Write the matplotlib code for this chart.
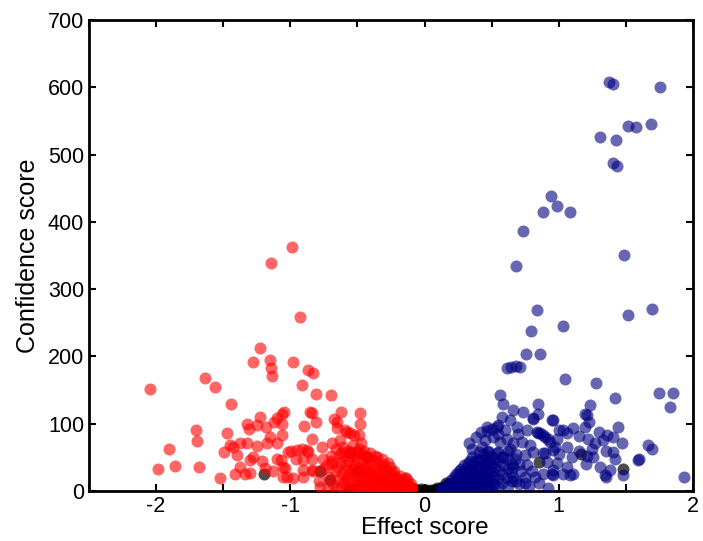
import matplotlib
matplotlib.use("Agg")
import matplotlib.pyplot as plt
from matplotlib.ticker import MultipleLocator

plt.rcParams["font.family"] = ["Liberation Sans", "DejaVu Sans"]
plt.rcParams["axes.unicode_minus"] = False

# down-regulated (red)
red_x = [-0.99, -1.145, -0.926, -1.224, -1.276, -1.154, -1.142, -1.135, -0.983, -0.871,
         -0.834, -1.634, -1.564, -2.046, -0.914, -0.811, -0.695, -1.445, -1.706, -1.696,
         -1.907, -1.987, -1.858, -1.679, -1.525, -1.475, -1.493, -1.45, -1.326, -1.306,
         -1.251, -1.226, -1.18, -1.102, -1.065, -1.045, -1.12, -1.065, -0.851, -0.84,
         -0.811, -0.899, -0.677, -0.625, -0.481, -0.481, -0.65, -0.58, -0.556, -0.491,
         -0.837, -1.063, -1.152, -1.172, -1.102, -1.251, -1.326, -1.375, -1.425, -1.4,
         -1.3, -1.276, -1.209, -1.189, -1.375, -1.338, -1.3, -1.102, -1.072, -1.04,
         -1.053, -0.978, -0.998, -0.953, -0.916, -0.879, -0.961, -0.904, -0.842, -0.908,
         -0.829, -0.904, -0.765, -0.692, -0.755, -0.692, -0.759, -0.785, -0.78, -0.65,
         -0.593, -0.526, -0.474, -0.63, -0.867, -0.841, -0.618, -0.556, -0.494, -0.431,
         -0.357, -0.308, -0.258, -0.22, -0.146, -0.133, -1.018, -1.054, -1.027, -1.127,
         -1.413,
         # dense cluster
         -0.72, -0.71, -0.73, -0.70, -0.68, -0.67, -0.69, -0.66, -0.65, -0.64,
         -0.655, -0.63, -0.62, -0.615, -0.625, -0.61, -0.60, -0.595, -0.605, -0.58,
         -0.575, -0.585, -0.57, -0.56, -0.555, -0.565, -0.54, -0.545, -0.535, -0.54,
         -0.53, -0.52, -0.515, -0.525, -0.51, -0.50, -0.495, -0.505, -0.50, -0.49,
         -0.48, -0.475, -0.485, -0.47, -0.46, -0.455, -0.465, -0.46, -0.45, -0.44,
         -0.435, -0.445, -0.43, -0.42, -0.415, -0.425, -0.42, -0.41, -0.40, -0.395,
         -0.405, -0.39, -0.38, -0.375, -0.385, -0.38, -0.37, -0.36, -0.355, -0.365,
         -0.35, -0.34, -0.335, -0.345, -0.34, -0.32, -0.315, -0.325, -0.31, -0.30,
         -0.295, -0.305, -0.30, -0.28, -0.275, -0.285, -0.27, -0.26, -0.255, -0.265,
         -0.24, -0.235, -0.245, -0.23, -0.22, -0.215, -0.225, -0.20, -0.195, -0.205,
         -0.18, -0.175, -0.185, -0.17, -0.16, -0.155, -0.165, -0.14, -0.135, -0.145,
         -0.12, -0.125, -0.11, -0.10, -0.105, -0.19, -0.17, -0.15, -0.13, -0.115,
         -0.09, -0.095, -0.35, -0.30, -0.25, -0.40, -0.45, -0.33, -0.28]
red_y = [362, 339, 258, 213, 191, 195, 183, 171, 191, 180,
         175, 168, 154, 151, 157, 144, 143, 129, 91, 74,
         62, 32, 37, 35, 19, 86, 58, 68, 100, 92,
         98, 110, 95, 108, 115, 117, 103, 100, 118, 116,
         102, 97, 107, 118, 116, 100, 103, 88, 86, 83,
         78, 83, 80, 71, 71, 67, 71, 72, 66, 53,
         46, 51, 44, 34, 35, 25, 27, 47, 46, 34,
         21, 19, 60, 61, 63, 61, 47, 46, 48, 31,
         29, 21, 66, 71, 47, 41, 32, 15, 6, 93,
         90, 83, 71, 76, 58, 31, 58, 58, 56, 51,
         51, 36, 26, 21, 19, 9, 58, 36, 21, 29,
         26,
         5, 21, 38, 52, 11, 29, 45, 62, 3, 18,
         36, 55, 8, 26, 42, 66, 14, 31, 50, 4,
         21, 38, 60, 10, 27, 45, 2, 16, 33, 52,
         68, 8, 24, 40, 58, 4, 15, 30, 46, 63,
         9, 21, 36, 55, 3, 15, 28, 44, 60, 7,
         20, 34, 50, 2, 12, 25, 40, 57, 6, 17,
         30, 46, 3, 11, 22, 36, 52, 7, 16, 28,
         42, 2, 10, 20, 33, 47, 5, 14, 25, 38,
         2, 9, 18, 30, 42, 5, 13, 23, 35, 2,
         8, 17, 28, 4, 11, 20, 30, 2, 7, 14,
         23, 4, 10, 17, 1, 6, 12, 20, 3, 8,
         15, 1, 5, 11, 3, 7, 1, 4, 2, 5,
         2, 4, 20, 15, 10, 25, 33, 8, 12]

# up-regulated (navy)
blue_x = [1.375, 1.407, 1.756, 1.513, 1.575, 1.687, 1.305, 1.424, 1.401, 1.434,
          0.942, 0.984, 0.882, 1.083, 0.731, 1.484, 0.681, 0.835, 1.516, 1.695,
          0.793, 1.034, 0.753, 0.862, 0.612, 0.641, 0.679, 0.711, 1.046, 1.275,
          1.419, 1.747, 1.853, 1.829, 0.562, 0.586, 0.661, 0.735, 0.843, 0.847,
          0.947, 0.81, 0.574, 0.462, 0.549, 0.636, 0.686, 0.761, 0.847, 0.884,
          0.922, 1.034, 1.108, 1.195, 1.208, 1.232, 1.357, 1.443, 1.407, 1.469,
          1.667, 1.692, 1.598, 1.935, 1.407, 1.307, 1.345, 1.257, 1.208, 1.06,
          1.108, 1.034, 0.984, 0.897, 0.972, 0.351, 0.425, 1.195, 1.225, 0.954,
          1.27, 1.06, 1.419, 1.592, 1.382, 1.353, 1.48, 1.083, 0.959, 0.806,
          0.467, 0.537, 0.698, 0.835, 0.86, 0.897, 0.934, 0.984, 0.512, 0.562,
          0.611, 0.661, 0.723, 0.785, 0.475, 0.537, 0.586, 0.674, 0.748, 0.81,
          0.884, 0.959, 0.91, 0.959, 0.761, 0.823, 0.748, 0.661, 0.884, 0.947,
          1.0, 1.06, 1.15, 1.22, 1.3, 1.33, 1.35, 1.25, 1.15, 1.1,
          1.2, 1.0, 0.70, 0.78, 0.85, 0.92,
          0.33, 0.38, 0.42, 0.45, 0.50, 0.55, 0.60, 0.64, 0.68, 0.70,
          0.72, 0.66, 0.62, 0.75, 0.80, 0.68,
          # dense cluster
          0.12, 0.125, 0.14, 0.145, 0.16, 0.155, 0.165, 0.18, 0.175, 0.185,
          0.20, 0.195, 0.205, 0.20, 0.22, 0.215, 0.225, 0.22, 0.24, 0.235,
          0.245, 0.24, 0.235, 0.26, 0.255, 0.265, 0.26, 0.255, 0.28, 0.275,
          0.285, 0.28, 0.275, 0.30, 0.295, 0.305, 0.30, 0.295, 0.32, 0.315,
          0.325, 0.32, 0.315, 0.325, 0.34, 0.335, 0.345, 0.34, 0.335, 0.36,
          0.355, 0.365, 0.36, 0.355, 0.38, 0.375, 0.385, 0.38, 0.375, 0.40,
          0.395, 0.405, 0.40, 0.395, 0.405, 0.42, 0.415, 0.425, 0.42, 0.415,
          0.44, 0.435, 0.445, 0.44, 0.435, 0.46, 0.455, 0.465, 0.46, 0.455,
          0.48, 0.475, 0.485, 0.48, 0.475, 0.50, 0.495, 0.505, 0.50, 0.495,
          0.52, 0.515, 0.525, 0.52, 0.55, 0.545, 0.555, 0.55, 0.545, 0.58,
          0.575, 0.585, 0.58, 0.62, 0.615, 0.625, 0.62, 0.65, 0.645, 0.655]
blue_y = [608, 605, 601, 542, 541, 546, 526, 522, 487, 483,
          438, 424, 414, 414, 387, 351, 335, 269, 261, 271,
          238, 245, 203, 204, 183, 185, 186, 185, 167, 161,
          138, 146, 146, 125, 143, 129, 120, 118, 129, 115,
          105, 108, 110, 95, 98, 105, 95, 90, 86, 83,
          78, 90, 93, 95, 113, 128, 83, 95, 81, 71,
          68, 62, 47, 21, 58, 36, 24, 51, 52, 36,
          26, 26, 41, 56, 66, 62, 66, 115, 102, 105,
          71, 66, 48, 46, 31, 21, 24, 24, 24, 107,
          89, 95, 85, 88, 86, 81, 73, 77, 81, 73,
          78, 71, 73, 68, 58, 56, 51, 48, 53, 58,
          56, 61, 43, 31, 39, 21, 21, 21, 26, 26,
          90, 86, 82, 78, 88, 76, 60, 62, 60, 50,
          40, 55, 10, 8, 12, 5,
          72, 80, 88, 76, 92, 85, 90, 62, 55, 40,
          30, 35, 60, 12, 30, 15,
          1, 3, 2, 5, 1, 4, 8, 3, 7, 12,
          2, 6, 11, 16, 4, 9, 15, 21, 2, 7,
          13, 20, 26, 5, 11, 18, 25, 30, 3, 9,
          16, 23, 33, 6, 13, 21, 29, 38, 2, 10,
          18, 27, 36, 42, 5, 14, 23, 32, 45, 8,
          17, 27, 38, 50, 3, 12, 22, 33, 44, 7,
          16, 26, 37, 48, 58, 4, 13, 24, 35, 46,
          9, 19, 30, 42, 55, 3, 14, 25, 38, 50,
          8, 20, 32, 45, 60, 5, 16, 28, 40, 52,
          11, 23, 36, 48, 6, 18, 30, 44, 58, 12,
          25, 38, 50, 8, 20, 34, 47, 15, 28, 40]

# not significant (grey)
grey_x = [-1.194, -0.78, -0.705, -0.56, -0.556, -0.43, -0.50, 1.164, 0.856, 1.476,
          0.16, -0.17, -0.15, -0.13, -0.11, -0.09, -0.07, -0.05, -0.03, -0.01,
          0.0, 0.01, 0.03, 0.05, 0.07, 0.09, 0.11, 0.13, 0.15, 0.17,
          -0.12, -0.08, 0.08, 0.12]
grey_y = [26, 29, 16, 3, 57, 51, 30, 55, 43, 32,
          12, 6, 4, 8, 3, 5, 2, 1, 3, 0.5,
          2, 1, 0.5, 2, 1, 4, 3, 6, 5, 9,
          1, 0.5, 1, 2]

fig = plt.figure(figsize=(7.03, 5.41), dpi=100)
ax = fig.add_axes([0.1266, 0.0924, 0.8592, 0.8706])

ax.scatter(grey_x, grey_y, s=75, color="black", alpha=0.7, linewidths=0, zorder=2)
ax.scatter(red_x, red_y, s=75, color="red", alpha=0.6, linewidths=0, zorder=3)
ax.scatter(blue_x, blue_y, s=75, color="navy", alpha=0.6, linewidths=0, zorder=3)

ax.set_xlim(-2.5, 2)
ax.set_ylim(0, 700)
ax.xaxis.set_major_locator(MultipleLocator(1))
ax.xaxis.set_minor_locator(MultipleLocator(0.5))
ax.yaxis.set_major_locator(MultipleLocator(100))
ax.tick_params(which="both", direction="in", top=True, right=True,
               length=5, width=1.5, labelsize=15.5)
for sp in ax.spines.values():
    sp.set_linewidth(2)

ax.set_xlabel("Effect score", fontsize=17.5)
ax.xaxis.set_label_coords(0.556, -0.056)
ax.set_ylabel("Confidence score", fontsize=18, labelpad=6)

fig.savefig("out.png", dpi=100)
